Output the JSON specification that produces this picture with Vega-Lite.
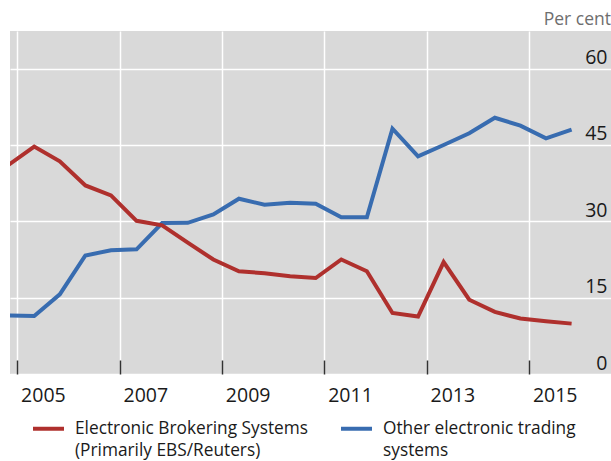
{
  "$schema": "https://vega.github.io/schema/vega-lite/v6.json",
  "width": 601,
  "height": 343,
  "autosize": {"type": "none"},
  "padding": {"left": 10, "top": 31, "right": 0, "bottom": 87},
  "background": "white",
  "title": {"text": "Per cent", "anchor": "end", "frame": "group", "fontSize": 17.5, "font": "Open Sans", "fontWeight": "normal", "color": "#6e6e6e", "offset": 5, "baseline": "bottom", "dy": 20},
  "config": {
    "view": {"fill": "#d9d9d9", "stroke": null},
    "font": "Open Sans"
  },
  "data": {"values": [
    {"date": 2004.83, "series": "Electronic Brokering Systems (Primarily EBS/Reuters)", "value": 41.1},
    {"date": 2005.33, "series": "Electronic Brokering Systems (Primarily EBS/Reuters)", "value": 44.7},
    {"date": 2005.83, "series": "Electronic Brokering Systems (Primarily EBS/Reuters)", "value": 41.8},
    {"date": 2006.33, "series": "Electronic Brokering Systems (Primarily EBS/Reuters)", "value": 37.05},
    {"date": 2006.83, "series": "Electronic Brokering Systems (Primarily EBS/Reuters)", "value": 35.1},
    {"date": 2007.33, "series": "Electronic Brokering Systems (Primarily EBS/Reuters)", "value": 30.1},
    {"date": 2007.83, "series": "Electronic Brokering Systems (Primarily EBS/Reuters)", "value": 29.2},
    {"date": 2008.33, "series": "Electronic Brokering Systems (Primarily EBS/Reuters)", "value": 25.8},
    {"date": 2008.83, "series": "Electronic Brokering Systems (Primarily EBS/Reuters)", "value": 22.5},
    {"date": 2009.33, "series": "Electronic Brokering Systems (Primarily EBS/Reuters)", "value": 20.2},
    {"date": 2009.83, "series": "Electronic Brokering Systems (Primarily EBS/Reuters)", "value": 19.8},
    {"date": 2010.33, "series": "Electronic Brokering Systems (Primarily EBS/Reuters)", "value": 19.2},
    {"date": 2010.83, "series": "Electronic Brokering Systems (Primarily EBS/Reuters)", "value": 18.85},
    {"date": 2011.33, "series": "Electronic Brokering Systems (Primarily EBS/Reuters)", "value": 22.5},
    {"date": 2011.83, "series": "Electronic Brokering Systems (Primarily EBS/Reuters)", "value": 20.2},
    {"date": 2012.33, "series": "Electronic Brokering Systems (Primarily EBS/Reuters)", "value": 12.0},
    {"date": 2012.83, "series": "Electronic Brokering Systems (Primarily EBS/Reuters)", "value": 11.3},
    {"date": 2013.33, "series": "Electronic Brokering Systems (Primarily EBS/Reuters)", "value": 22.0},
    {"date": 2013.83, "series": "Electronic Brokering Systems (Primarily EBS/Reuters)", "value": 14.6},
    {"date": 2014.33, "series": "Electronic Brokering Systems (Primarily EBS/Reuters)", "value": 12.2},
    {"date": 2014.83, "series": "Electronic Brokering Systems (Primarily EBS/Reuters)", "value": 10.9},
    {"date": 2015.33, "series": "Electronic Brokering Systems (Primarily EBS/Reuters)", "value": 10.35},
    {"date": 2015.83, "series": "Electronic Brokering Systems (Primarily EBS/Reuters)", "value": 9.9},
    {"date": 2004.83, "series": "Other electronic trading systems", "value": 11.5},
    {"date": 2005.33, "series": "Other electronic trading systems", "value": 11.4},
    {"date": 2005.83, "series": "Other electronic trading systems", "value": 15.65},
    {"date": 2006.33, "series": "Other electronic trading systems", "value": 23.3},
    {"date": 2006.83, "series": "Other electronic trading systems", "value": 24.3},
    {"date": 2007.33, "series": "Other electronic trading systems", "value": 24.5},
    {"date": 2007.83, "series": "Other electronic trading systems", "value": 29.65},
    {"date": 2008.33, "series": "Other electronic trading systems", "value": 29.7},
    {"date": 2008.83, "series": "Other electronic trading systems", "value": 31.35},
    {"date": 2009.33, "series": "Other electronic trading systems", "value": 34.45},
    {"date": 2009.83, "series": "Other electronic trading systems", "value": 33.25},
    {"date": 2010.33, "series": "Other electronic trading systems", "value": 33.65},
    {"date": 2010.83, "series": "Other electronic trading systems", "value": 33.45},
    {"date": 2011.33, "series": "Other electronic trading systems", "value": 30.8},
    {"date": 2011.83, "series": "Other electronic trading systems", "value": 30.8},
    {"date": 2012.33, "series": "Other electronic trading systems", "value": 48.2},
    {"date": 2012.83, "series": "Other electronic trading systems", "value": 42.75},
    {"date": 2013.33, "series": "Other electronic trading systems", "value": 45.0},
    {"date": 2013.83, "series": "Other electronic trading systems", "value": 47.3},
    {"date": 2014.33, "series": "Other electronic trading systems", "value": 50.35},
    {"date": 2014.83, "series": "Other electronic trading systems", "value": 48.8},
    {"date": 2015.33, "series": "Other electronic trading systems", "value": 46.3},
    {"date": 2015.83, "series": "Other electronic trading systems", "value": 48.0}
  ]},
  "encoding": {
    "x": {"field": "date", "type": "quantitative",
      "scale": {"domain": [2004.857, 2016.6], "nice": false, "zero": false},
      "axis": {"title": null, "values": [2005, 2007, 2009, 2011, 2013, 2015], "format": "d",
        "grid": true, "gridColor": "white", "gridWidth": 1.5, "gridOpacity": 1,
        "domain": false, "tickSize": -14, "tickColor": "#333333", "tickWidth": 1.5,
        "labelOffset": 25.6, "labelPadding": 26, "labelFontSize": 19.5, "labelColor": "#1a1a1a", "labelBaseline": "top", "labelFlush": false}},
    "y": {"field": "value", "type": "quantitative",
      "scale": {"domain": [0, 67.4], "nice": false},
      "axis": {"title": null, "orient": "right", "values": [0, 15, 30, 45, 60],
        "grid": true, "gridColor": "white", "gridWidth": 1.5, "gridOpacity": 1,
        "domain": false, "ticks": false, "labelPadding": -4, "labelAlign": "right",
        "labelBaseline": "alphabetic", "labelOffset": -5, "labelFontSize": 19.5, "labelColor": "#1a1a1a"}},
    "color": {"field": "series", "type": "nominal",
      "scale": {"domain": ["Electronic Brokering Systems (Primarily EBS/Reuters)", "Other electronic trading systems"], "range": ["#af302d", "#386cb0"]},
      "legend": {"title": null, "orient": "none", "legendX": 21, "legendY": 380, "direction": "horizontal", "columns": 2,
        "columnPadding": 24, "symbolType": "stroke", "symbolSize": 961, "symbolStrokeWidth": 4,
        "labelOffset": 9, "labelFontSize": 17.3, "labelColor": "#1a1a1a", "labelLimit": 400, "labelBaseline": "middle",
        "labelExpr": "datum.value == 'Other electronic trading systems' ? ['Other electronic trading', 'systems'] : ['Electronic Brokering Systems', '(Primarily EBS/Reuters)']",
        "encode": {"labels": {"update": {"lineHeight": {"value": 22.7}}}}}}
  },
  "layer": [
    {"transform": [{"filter": "datum.series == 'Other electronic trading systems'"}],
     "mark": {"type": "line", "strokeWidth": 4, "clip": true}},
    {"transform": [{"filter": "datum.series != 'Other electronic trading systems'"}],
     "mark": {"type": "line", "strokeWidth": 4, "clip": true}}
  ]
}
